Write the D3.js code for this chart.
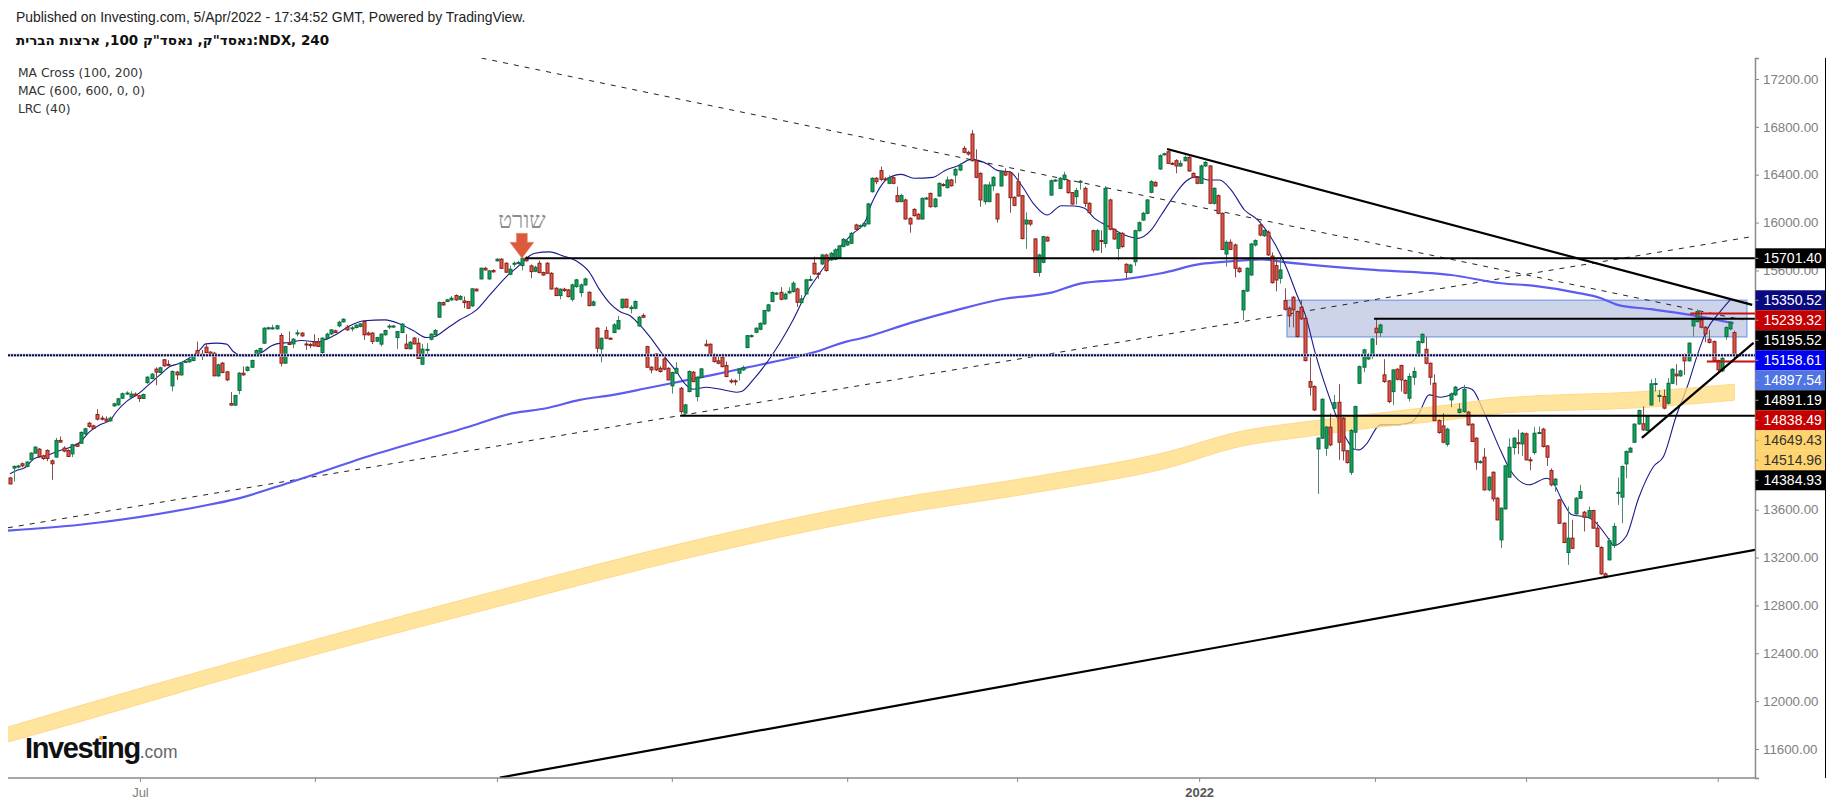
<!DOCTYPE html>
<html>
<head>
<meta charset="utf-8">
<script src="https://d3js.org/d3.v7.min.js"></script>
<style>
body { margin: 0; background: #fff; }
text { font-family: "Liberation Sans", Arial, sans-serif; }
</style>
</head>
<body>
<div id="vis"></div>
<script type="text/javascript">

// prices, one row per 4h bar: open, high, low, close
var candles = [
[13865,13875,13815,13815],[13948,13970,13835,13962],[13960,13975,13945,13965],[13984,13995,13955,13967],[13962,14005,13955,13998],
[14017,14080,14005,14073],[14073,14130,14070,14123],[14106,14115,14035,14045],[14050,14060,14015,14028],[14095,14105,14005,14028],
[14009,14020,13850,13984],[14040,14200,14035,14179],[14179,14212,14160,14165],[14115,14130,14080,14090],[14095,14105,14040,14045],
[14067,14150,14040,14143],[14148,14155,14125,14130],[14156,14255,14150,14246],[14234,14285,14225,14276],[14323,14335,14285,14295],
[14301,14310,14270,14279],[14396,14440,14345,14357],[14365,14385,14345,14360],[14357,14380,14335,14340],[14343,14380,14335,14365],
[14468,14495,14460,14485],[14477,14535,14470,14527],[14532,14580,14525,14569],[14570,14590,14560,14575],[14541,14590,14535,14566],
[14566,14580,14545,14555],[14552,14560,14500,14530],[14530,14570,14525,14563],[14663,14715,14650,14708],[14697,14740,14690,14733],
[14775,14790,14640,14750],[14747,14795,14740,14786],[14853,14860,14795,14803],[14815,14850,14800,14810],[14635,14765,14590,14755],
[14750,14760,14685,14727],[14727,14835,14720,14825],[14835,14850,14825,14840],[14836,14865,14830,14858],[14847,14890,14840,14880],
[14930,15005,14885,14895],[14900,14935,14852,14895],[14958,14990,14905,14914],[14917,14925,14890,14900],[14908,14920,14715,14719],
[14719,14820,14710,14811],[14825,14835,14740,14747],[14752,14760,14675,14686],[14488,14583,14470,14474],[14474,14560,14470,14555],
[14597,14750,14565,14741],[14741,14797,14720,14727],[14764,14800,14755,14791],[14791,14855,14785,14847],[14886,14940,14880,14930],
[14917,14955,14910,14947],[14992,15125,14985,15117],[15115,15130,15105,15120],[15115,15145,15105,15120],[15112,15145,15105,15137],
[15056,15075,14797,14825],[14825,14970,14820,14964],[14992,15090,14975,14981],[14986,15035,14950,15025],[15073,15105,15050,15078],
[15076,15085,15045,15053],[14985,15005,14935,14982],[14980,14995,14950,14975],[15003,15067,14965,14970],[15003,15035,14960,14964],
[14914,15040,14875,15034],[15031,15080,15020,15067],[15070,15110,15060,15103],[15095,15105,15075,15081],[15137,15180,15125,15167],
[15170,15200,15165,15192],[15126,15145,15095,15103],[15115,15135,15090,15120],[15123,15150,15115,15142],[15131,15160,15125,15153],
[15173,15180,15020,15062],[15076,15090,15055,15062],[15076,15085,14985,15006],[15009,15045,15000,15039],[14984,15075,14965,15067],
[15062,15105,15055,15098],[15130,15150,15110,15135],[15130,15145,15120,15135],[15039,15095,14945,15089],[15081,15160,15075,15151],
[14984,15067,14940,14947],[14945,15010,14940,15000],[15034,15045,14980,14986],[14992,15035,14860,14864],[14816,14985,14810,14942],
[14935,14992,14880,14940],[15025,15075,15015,15067],[15062,15110,15055,15098],[15209,15340,15205,15331],[15331,15340,15305,15312],
[15340,15362,15335,15354],[15354,15385,15345,15368],[15390,15400,15345,15354],[15359,15395,15350,15382],[15345,15382,15285,15331],
[15340,15345,15280,15284],[15304,15450,15295,15446],[15443,15450,15425,15429],[15529,15625,15525,15618],[15618,15630,15598,15604],
[15529,15605,15522,15596],[15599,15610,15582,15588],[15680,15700,15675,15694],[15694,15702,15612,15618],[15660,15668,15580,15585],
[15568,15640,15560,15610],[15655,15675,15630,15660],[15660,15680,15650,15666],[15641,15710,15600,15702],[15702,15720,15675,15680],
[15638,15650,15535,15590],[15593,15640,15585,15626],[15660,15682,15575,15582],[15582,15590,15555,15562],[15660,15670,15570,15576],
[15576,15585,15440,15445],[15451,15460,15385,15390],[15390,15450,15360,15443],[15443,15455,15420,15432],[15437,15445,15375,15381],
[15359,15490,15340,15479],[15465,15530,15455,15521],[15415,15490,15380,15479],[15479,15540,15470,15529],[15417,15425,15300,15306],
[15309,15350,15300,15337],[15117,15125,14913,14950],[14944,15040,14833,15033],[15097,15130,15025,15033],[15033,15040,15025,15030],
[15081,15160,15075,15145],[15111,15220,15105,15181],[15289,15365,15280,15359],[15359,15365,15285,15292],[15280,15310,15240,15292],
[15284,15350,15275,15340],[15136,15220,15130,15209],[15223,15240,15200,15209],[14963,14970,14785,14791],[14791,14800,14740,14769],
[14902,14910,14760,14769],[14782,14800,14745,14755],[14860,14870,14765,14775],[14782,14790,14680,14685],[14635,14755,14570,14746],
[14741,14833,14735,14782],[14615,14625,14400,14420],[14407,14485,14400,14476],[14588,14765,14580,14755],[14749,14760,14665,14671],
[14546,14715,14505,14707],[14705,14785,14700,14777],[14983,15020,14965,14970],[14983,14990,14895,14900],[14880,14908,14830,14838],
[14844,14890,14815,14824],[14875,14885,14790,14796],[14805,14838,14708,14713],[14677,14695,14655,14670],[14677,14690,14640,14670],
[14741,14785,14680,14777],[14769,14805,14760,14788],[14955,15060,14950,15055],[15050,15065,15040,15055],[15083,15125,15075,15117],
[15108,15165,15100,15158],[15153,15270,15145,15264],[15262,15320,15255,15312],[15340,15425,15335,15415],[15405,15420,15395,15410],
[15417,15460,15350,15359],[15362,15415,15355,15401],[15412,15460,15405,15425],[15423,15510,15415,15493],[15445,15455,15295,15334],
[15331,15395,15325,15362],[15404,15530,15398,15521],[15520,15555,15510,15525],[15660,15715,15565,15571],[15575,15585,15530,15568],
[15654,15740,15645,15729],[15729,15740,15590,15599],[15688,15755,15680,15743],[15693,15785,15685,15771],[15702,15810,15695,15805],
[15799,15870,15795,15860],[15813,15855,15805,15841],[15827,15920,15820,15910],[15980,15990,15935,15944],[15965,15985,15950,15974],
[15972,16000,15960,15994],[15989,16165,15985,16156],[16258,16378,16250,16370],[16370,16380,16320,16342],[16434,16468,16345,16361],
[16365,16380,16345,16358],[16328,16395,16320,16375],[16375,16385,16320,16328],[16225,16300,16168,16175],[16175,16240,16170,16225],
[16189,16200,16025,16030],[16035,16045,15915,15988],[16110,16120,16050,16058],[16069,16078,16025,16030],[16030,16210,16025,16202],
[16200,16215,16190,16205],[16244,16250,16125,16133],[16133,16205,16125,16197],[16222,16335,16215,16328],[16318,16330,16300,16312],
[16292,16385,16285,16356],[16356,16365,16300,16308],[16397,16455,16328,16445],[16439,16495,16430,16481],[16620,16640,16580,16587],
[16587,16600,16560,16573],[16740,16773,16510,16517],[16517,16612,16370,16378],[16411,16420,16133,16189],[16175,16320,16150,16314],
[16175,16342,16170,16314],[16308,16390,16265,16378],[16239,16245,16000,16030],[16306,16433,16300,16425],[16425,16453,16390,16397],
[16417,16430,16083,16208],[16211,16220,16135,16144],[16342,16417,16215,16222],[16225,16230,15860,15866],[15988,16085,15780,16021],
[16016,16025,15970,15988],[15863,15870,15580,15584],[15584,15740,15548,15729],[15668,15890,15660,15882],[15877,15885,15840,15846],
[16230,16360,16222,16350],[16350,16365,16340,16355],[16286,16380,16278,16370],[16361,16425,16350,16397],[16350,16360,16242,16250],
[16250,16255,16150,16155],[16217,16290,16150,16267],[16340,16355,16275,16345],[16286,16300,16130,16161],[16161,16170,16075,16083],
[15932,15940,15750,15771],[15771,15945,15765,15932],[15850,15935,15745,15845],[15826,16305,15790,16286],[16189,16200,15935,15944],
[15944,15950,15855,15863],[15785,15920,15687,15910],[15910,15920,15790,15799],[15651,15660,15525,15584],[15584,15655,15575,15645],
[15673,15940,15637,15932],[15932,16010,15925,15999],[16021,16090,16015,16077],[16077,16195,16070,16189],[16253,16355,16245,16342],
[16336,16345,16300,16306],[16448,16570,16440,16559],[16570,16585,16560,16575],[16592,16600,16490,16495],[16495,16505,16480,16490],
[16517,16530,16412,16473],[16473,16520,16465,16495],[16517,16560,16510,16545],[16545,16555,16425,16431],[16411,16420,16370,16378],
[16378,16385,16320,16328],[16328,16485,16322,16473],[16473,16515,16465,16503],[16473,16480,16155,16161],[16161,16295,16150,16286],
[16225,16235,16070,16077],[16077,16085,15770,15776],[15737,15850,15632,15835],[15835,15860,15770,15776],[15813,15825,15542,15618],
[15618,15630,15580,15590],[15270,15440,15186,15431],[15428,15625,15420,15618],[15562,15830,15555,15821],[15813,15860,15800,15849],
[15980,16010,15885,15896],[15890,15940,15880,15935],[15920,15935,15720,15730],[15720,15750,15490,15498],[15640,15700,15425,15520],
[15534,15700,15490,15604],[15348,15450,15265,15275],[15284,15300,15125,15220],[15376,15385,15123,15270],[15256,15265,15040,15047],
[15292,15353,15185,15195],[15200,15210,14840,14846],[14671,14874,14554,14624],[14629,14640,14425,14434],[14108,14205,13732,14198],
[14198,14530,14190,14523],[14114,14300,14050,14290],[14290,14405,14130,14142],[14448,14560,14440,14495],[14498,14649,14017,14164],
[14365,14375,14011,14092],[14092,14100,13985,13994],[13913,14275,13890,14262],[14248,14470,14100,14462],[14657,14805,14650,14796],
[14791,14945,14749,14936],[14860,14910,14850,14894],[14894,15035,14860,15027],[15117,15200,14977,15080],[15080,15155,15045,15144],
[14727,14858,14660,14671],[14677,14685,14490,14504],[14587,14775,14476,14768],[14774,14782,14680,14690],[14805,14812,14588,14685],
[14680,14690,14565,14574],[14532,14740,14504,14713],[14707,14790,14643,14755],[14885,15015,14880,15005],[14997,15075,14990,15066],
[14941,15045,14815,14824],[14824,14830,14643,14707],[14657,14732,14340,14345],[14345,14355,14235,14245],[14300,14405,14155,14164],
[14147,14285,14128,14273],[14518,14580,14457,14568],[14560,14635,14550,14624],[14412,14490,14405,14440],[14420,14643,14410,14607],
[14415,14425,14300,14309],[14315,14322,14165,14170],[14198,14205,13933,13997],[13995,14015,13985,14002],[14039,14114,13760,13766],
[13766,13880,13755,13872],[13913,13920,13668,13691],[13696,13705,13510,13515],[13348,13620,13279,13613],[13607,13975,13600,13966],
[13872,14197,13865,14122],[14120,14205,14060,14198],[14160,14270,14065,14155],[14150,14250,14050,14239],[14234,14245,14010,14017],
[14017,14040,13930,14010],[14078,14290,14060,14239],[14240,14295,14235,14245],[14273,14285,14120,14128],[14133,14140,13965,14039],
[13927,13945,13795,13808],[13808,13865,13750,13855],[13682,13690,13480,13487],[13487,13495,13320,13326],[13242,13627,13139,13362],
[13362,13515,13270,13278],[13565,13705,13560,13696],[13696,13808,13690,13752],[13579,13590,13418,13537],[13537,13627,13530,13593],
[13593,13600,13440,13446],[13446,13500,13285,13293],[13284,13295,13055,13064],[13064,13075,13025,13037],[13181,13360,13175,13340],
[13301,13490,13280,13460],[13738,13869,13640,13745],[13705,13970,13487,13961],[13983,14095,13863,14086],[14081,14125,14075,14114],
[14164,14322,14158,14315],[14317,14437,14310,14429],[14318,14463,14260,14268],[14262,14390,14255,14379],[14476,14688,14470,14652],
[14652,14700,14588,14655],[14546,14600,14500,14555],[14546,14605,14440,14449],[14490,14700,14480,14657],[14657,14782,14650,14774],
[14733,14815,14640,14719],[14719,14770,14710,14760],[14894,14905,14727,14844],[14844,15000,14840,14992],[15136,15200,15047,15192],
[15172,15275,15165,15256],[15186,15260,15115,15125],[15125,15135,15000,15069],[15025,15103,14990,14997],[15005,15015,14840,14847],
[14847,14855,14740,14769],[14760,14875,14750,14866],[15047,15135,15020,15122],[15111,15175,15100,15167],[15080,15097,14860,14894]
];

// moving averages, read at turning points: bar number, price
var maCross100 = [[0,13900],[1.6,13928],[3.4,13948],[6,14031],[8,14045],[12,14095],[14,14115],[17,14170],[19,14248],[21.6,14310],[24,14346],[25.6,14421],[28,14505],[31,14574],[33,14635],[36,14727],[38.4,14797],[40.4,14819],[43,14867],[45.6,14936],[47,14986],[49.6,14992],[52,14984],[53.6,14922],[56,14886],[58,14886],[60.4,14914],[62.8,14970],[64,14986],[67,14998],[70,15014],[74,15003],[75.6,15020],[78.4,15067],[81.6,15137],[85,15179],[90,15187],[93.6,15153],[96.8,15098],[100,15039],[102,15048],[105,15117],[108,15187],[112,15270],[115.2,15395],[119.2,15549],[122.4,15646],[124,15702],[126,15743],[129.6,15755],[132.8,15721],[136,15679],[139,15590],[141.6,15437],[144,15326],[146.4,15256],[148.8,15223],[150.8,15159],[153.6,15047],[156.8,14894],[160,14755],[161.8,14663],[164,14607],[167.2,14624],[171.2,14602],[174.4,14582],[175.6,14588],[178.4,14685],[181.6,14824],[184.8,14991],[188,15186],[191.2,15409],[194.4,15576],[197.6,15729],[202,15897],[205.5,16022],[206.4,16120],[208,16240],[210.8,16370],[214,16403],[217,16370],[221.6,16378],[224.4,16434],[227.6,16475],[230.8,16528],[234.8,16487],[237.2,16434],[240,16425],[242.8,16314],[246,16147],[249,16063],[252.4,16141],[255.6,16138],[258,16119],[260.4,16035],[263.6,15971],[267.6,15896],[270.8,15868],[274,15938],[276.4,16063],[279.6,16230],[282.4,16347],[285,16384],[287.6,16356],[290.4,16356],[293.2,16272],[296.4,16105],[299.6,16021],[306.7,15604],[309,15395],[311,15228],[313.5,14894],[316.3,14587],[321,14184],[322.7,14106],[323.9,14100],[325.5,14142],[329,14309],[332.3,14309],[336.3,14328],[338.3,14406],[340.7,14560],[343.5,14540],[346,14560],[349,14624],[351,14607],[354,14406],[358,14086],[360.3,13925],[364.7,13808],[369,13863],[370.3,13835],[373,13655],[375,13557],[378.7,13537],[380,13515],[384,13348],[385,13301],[388,13376],[391,13696],[394.6,13961],[397,14045],[400,14379],[403,14658],[405,14880],[407.4,15103],[410.6,15256],[413,15354]];

var maCross200 = [[-1,13424],[16.8,13474],[45.6,13627],[54.4,13691],[67.2,13828],[87.2,14059],[110.4,14296],[120.8,14407],[128.8,14448],[136.8,14518],[144.8,14560],[152.8,14615],[160.8,14671],[168.8,14727],[176.8,14788],[184.8,14847],[192.8,14913],[200.8,15005],[204.4,15033],[216.4,15164],[226.8,15264],[238,15359],[250,15414],[257.2,15492],[267.6,15526],[276.4,15576],[286,15654],[292,15673],[300.4,15693],[306,15670],[327.5,15604],[346,15562],[358,15493],[366,15471],[376,15415],[382,15368],[386,15312],[394,15276],[403.4,15228],[409,15192],[413.8,15159]];

// MAC 600 envelope: bar number, upper, lower
var macBand = [[-1,11778,11653],[16.8,11962,11828],[48,12271,12146],[117,12923,12789],[165,13349,13215],[208,13666,13533],[250,13900,13766],[278,14084,13950],[295,14251,14126],[311,14335,14210],[327,14400,14285],[344,14470,14345],[359,14535,14410],[391,14585,14452],[414,14649,14515]];

// drawn levels: price, first bar
var blackLevels = [[15701.40,123.7],[14384.93,160.9],[15195.52,327.5]];
var redLevels = [[15239.32,403.4],[14838.49,407.4]];
var lastPrice = 14891.19;

// trend lines: bar, price, bar, price
var solidTrends = [[277.8,16615,418.3,15312],[117.6,11360,419,13265],[391.8,14201,418.6,14995]];
var dashedTrends = [[-0.5,13449,417.8,15880],[113.2,17375,416,15187]];

var zoneBars = [306.6,417];
var zonePrices = [15350.52,15045];

var priceTicks = [17200,16800,16400,16000,15600,13600,13200,12800,12400,12000,11600];
var monthBars = [31.2,73.2,116.9,158.9,201,241.8,285.5,327.7,364,410];
var monthNames = ["Jul","","","","","","2022","","",""];

var priceTags = ["15350.52","15239.32","15195.52","15158.61","14897.54","14891.19","14838.49","14649.43","14514.96","14384.93"];
var tagFills = ["#0a0a80","#c40000","#000000","#0000f0","#4f74e3","#000000","#c40000","#ffd36e","#ffd36e","#000000"];
var tagInks = ["#fff","#fff","#fff","#fff","#fff","#fff","#fff","#333","#333","#fff"];

var legendLines = ["MA Cross (100, 200)","MAC (600, 600, 0, 0)","LRC (40)"];


var W = 1833, H = 807;
var plot = {left: 8, right: 1755, top: 58, bottom: 778};

var svg = d3.select("#vis").append("svg")
  .attr("width", W)
  .attr("height", H)
  .style("display", "block");

var x = d3.scaleLinear().domain([0, 418]).range([10, 1751]);
var y = d3.scaleLinear().domain([17375.5, 11357.5]).range([plot.top, plot.bottom]);

svg.append("clipPath").attr("id", "plotclip").append("rect")
  .attr("x", plot.left).attr("y", plot.top)
  .attr("width", plot.right - plot.left).attr("height", plot.bottom - plot.top);

var chart = svg.append("g").attr("clip-path", "url(#plotclip)");

// the blue zone sits under everything
chart.append("rect")
  .attr("x", x(zoneBars[0])).attr("y", y(zonePrices[0]))
  .attr("width", x(zoneBars[1]) - x(zoneBars[0]))
  .attr("height", y(zonePrices[1]) - y(zonePrices[0]))
  .attr("fill", "#cdd3e8").attr("stroke", "#8aaae8").attr("stroke-width", 1.5);

chart.selectAll("line.dash").data(dashedTrends).enter().append("line")
  .attr("class", "dash")
  .attr("x1", function(d) { return x(d[0]); }).attr("y1", function(d) { return y(d[1]); })
  .attr("x2", function(d) { return x(d[2]); }).attr("y2", function(d) { return y(d[3]); })
  .attr("stroke", "#222").attr("stroke-width", 1).attr("stroke-dasharray", "5 6");

var maLine = d3.line()
  .x(function(d) { return x(d[0]); })
  .y(function(d) { return y(d[1]); })
  .curve(d3.curveMonotoneX);

chart.append("path").datum(maCross200)
  .attr("d", maLine).attr("fill", "none")
  .attr("stroke", "#5c5cf0").attr("stroke-width", 2.2);

chart.append("path").datum(maCross100)
  .attr("d", maLine).attr("fill", "none")
  .attr("stroke", "#1a1a8c").attr("stroke-width", 1.1);

// band goes over the averages, the navy line turns grey through it
var bandArea = d3.area()
  .x(function(d) { return x(d[0]); })
  .y0(function(d) { return y(d[2]); })
  .y1(function(d) { return y(d[1]); })
  .curve(d3.curveMonotoneX);

chart.append("path").datum(macBand)
  .attr("d", bandArea)
  .attr("fill", "#ffdb7c").attr("fill-opacity", 0.75)
  .attr("stroke", "#ffd98a").attr("stroke-width", 1);

var bars = chart.selectAll("g.bar").data(candles).enter().append("g").attr("class", "bar");

bars.append("line")
  .attr("x1", function(d, i) { return Math.round(x(i)) + 0.5; })
  .attr("x2", function(d, i) { return Math.round(x(i)) + 0.5; })
  .attr("y1", function(d) { return y(d[1]); })
  .attr("y2", function(d) { return y(d[2]); })
  .attr("stroke", function(d) { return d[3] >= d[0] ? "#4d8a6c" : "#85504b"; })
  .attr("stroke-width", 1);

bars.append("rect")
  .attr("x", function(d, i) { return Math.round(x(i)) - 1; })
  .attr("y", function(d) { return y(Math.max(d[0], d[3])); })
  .attr("width", 3)
  .attr("height", function(d) { return Math.max(1, Math.abs(y(d[0]) - y(d[3]))); })
  .attr("fill", function(d) { return d[3] >= d[0] ? "#10a35e" : "#df5a4e"; })
  .attr("stroke", function(d) { return d[3] >= d[0] ? "#0b6b3d" : "#8c1f18"; })
  .attr("stroke-width", 1);

// dotted line at the last price, with a pale edge
chart.append("line")
  .attr("x1", plot.left).attr("x2", plot.right)
  .attr("y1", y(lastPrice)).attr("y2", y(lastPrice))
  .attr("stroke", "#c9ccd8").attr("stroke-width", 3);
chart.append("line")
  .attr("x1", plot.left).attr("x2", plot.right)
  .attr("y1", y(lastPrice)).attr("y2", y(lastPrice))
  .attr("stroke", "#0c0c50").attr("stroke-width", 2.2).attr("stroke-dasharray", "2 1");

chart.selectAll("line.level").data(blackLevels).enter().append("line")
  .attr("class", "level")
  .attr("x1", function(d) { return x(d[1]); }).attr("x2", plot.right)
  .attr("y1", function(d) { return y(d[0]); }).attr("y2", function(d) { return y(d[0]); })
  .attr("stroke", "#000").attr("stroke-width", 2);

chart.selectAll("line.redlevel").data(redLevels).enter().append("line")
  .attr("class", "redlevel")
  .attr("x1", function(d) { return x(d[1]); }).attr("x2", plot.right)
  .attr("y1", function(d) { return y(d[0]); }).attr("y2", function(d) { return y(d[0]); })
  .attr("stroke", "#cc0f0f").attr("stroke-width", 2);

chart.selectAll("line.trend").data(solidTrends).enter().append("line")
  .attr("class", "trend")
  .attr("x1", function(d) { return x(d[0]); }).attr("y1", function(d) { return y(d[1]); })
  .attr("x2", function(d) { return x(d[2]); }).attr("y2", function(d) { return y(d[3]); })
  .attr("stroke", "#000").attr("stroke-width", 2.2);

// short marker above the bar
var ax = x(122.9), ay = y(15701.40);
svg.append("path")
  .attr("d", "M" + (ax - 5.5) + "," + (ay - 25) + "h11v9h6.5l-12,16l-12,-16h6.5z")
  .attr("fill", "#dc5a3c").attr("stroke", "#e88f75").attr("stroke-width", 0.5);
svg.append("text")
  .attr("x", ax).attr("y", ay - 30)
  .attr("text-anchor", "middle")
  .style("font-family", "'Liberation Serif', serif")
  .style("font-size", "23px")
  .attr("fill", "#8c8c8c")
  .text("שורט");

// axes
var yAxis = d3.axisRight(y).tickValues(priceTicks).tickSize(4).tickPadding(4).tickFormat(d3.format(".2f"));
var gy = svg.append("g").attr("transform", "translate(" + plot.right + ",0)").call(yAxis);
gy.select(".domain").attr("stroke", "#8a8a8a").attr("stroke-width", 1.5);
gy.selectAll(".tick line").attr("stroke", "#8a8a8a");
gy.selectAll(".tick text").attr("fill", "#808080").style("font-size", "13.3px").style("font-family", "'Liberation Sans'");

var xAxis = d3.axisBottom(x).tickValues(monthBars).tickSize(4).tickPadding(6).tickFormat(function(d, i) { return monthNames[i]; });
var gx = svg.append("g").attr("transform", "translate(0," + plot.bottom + ")").call(xAxis);
gx.select(".domain").attr("d", "M" + plot.left + ",0H" + plot.right).attr("stroke", "#8a8a8a").attr("stroke-width", 1.5);
gx.selectAll(".tick line").attr("stroke", "#8a8a8a");
gx.selectAll(".tick text")
  .attr("fill", function(d, i) { return monthNames[i] == "2022" ? "#555" : "#808080"; })
  .style("font-weight", function(d, i) { return monthNames[i] == "2022" ? "bold" : "normal"; })
  .style("font-size", "13px").style("font-family", "'Liberation Sans'");

svg.append("line")
  .attr("x1", 1825.5).attr("x2", 1825.5).attr("y1", plot.top).attr("y2", plot.bottom)
  .attr("stroke", "#000");

// value tags on the axis, stacked from the first one down
function addTag(value, top, fill, ink) {
  var g = svg.append("g").attr("transform", "translate(" + (plot.right + 0.5) + "," + top + ")");
  g.append("rect").attr("width", 69.5).attr("height", 20).attr("fill", fill);
  g.append("line").attr("x1", 0).attr("x2", 3).attr("y1", 10).attr("y2", 10).attr("stroke", "#9a9a9a");
  g.append("text").attr("x", 8).attr("y", 15).attr("fill", ink)
    .style("font-size", "14px").text(value);
}
addTag("15701.40", y(15701.40) - 10, "#000000", "#fff");
var tagTop = y(+priceTags[0]) - 10;
priceTags.forEach(function(t, i) {
  addTag(t, tagTop + i * 20, tagFills[i], tagInks[i]);
});

// header
svg.append("text").attr("x", 16).attr("y", 22)
  .attr("fill", "#222").style("font-size", "13.9px")
  .text("Published on Investing.com, 5/Apr/2022 - 17:34:52 GMT, Powered by TradingView.");
svg.append("text").attr("x", 16).attr("y", 45)
  .attr("fill", "#111").style("font-family", "'DejaVu Sans'").style("font-weight", "bold").style("font-size", "13.5px")
  .text("נאסד\"ק, נאסד\"ק 100, ארצות הברית:NDX, 240");

svg.selectAll("text.legend").data(legendLines).enter().append("text")
  .attr("class", "legend")
  .attr("x", 18)
  .attr("y", function(d, i) { return 77 + i * 18; })
  .attr("fill", "#333")
  .style("font-family", "'DejaVu Sans'").style("font-size", "12.3px")
  .text(function(d) { return d; });

// logo
var logo = svg.append("text").attr("x", 25).attr("y", 758);
logo.append("tspan").attr("fill", "#111")
  .style("font-weight", "bold").style("font-size", "29px").style("letter-spacing", "-1.4px").text("Investing");
logo.append("tspan").attr("fill", "#666").style("font-size", "17.5px").text(".com");
svg.append("circle").attr("cx", 101).attr("cy", 738).attr("r", 2).attr("fill", "#f7941d");

</script>
</body>
</html>
